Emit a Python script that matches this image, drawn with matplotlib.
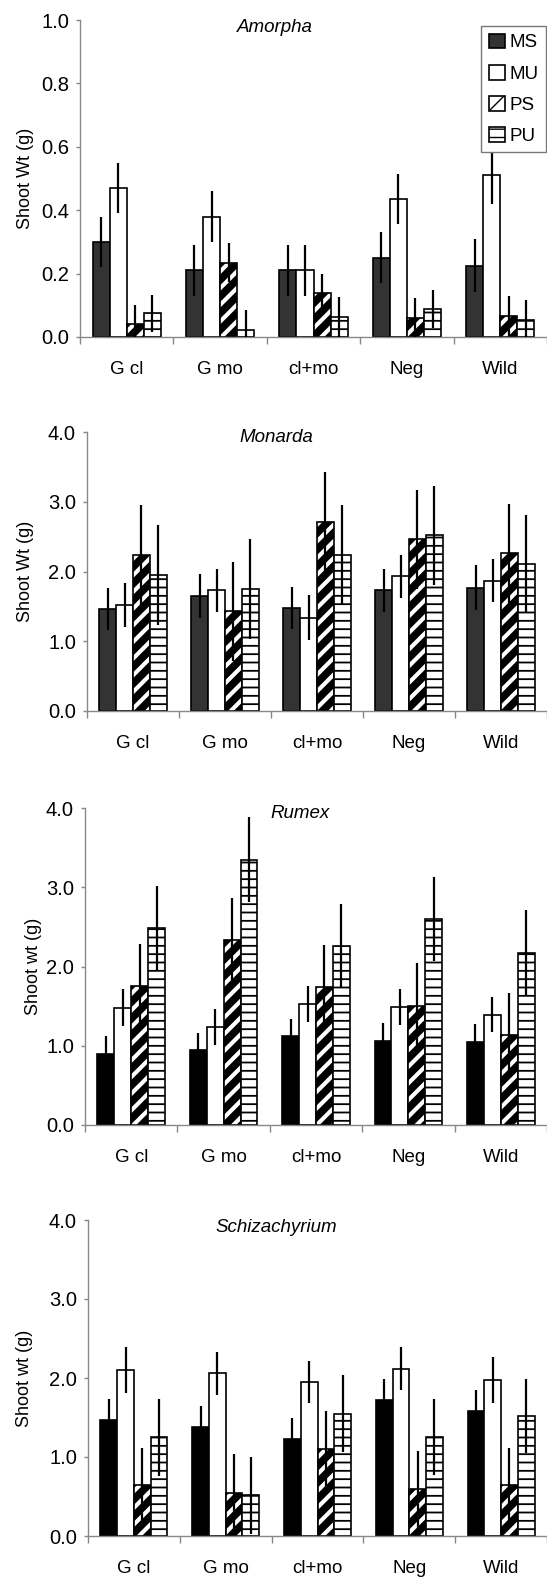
import matplotlib
matplotlib.use('Agg')
import matplotlib.pyplot as plt
import numpy as np

plt.rcParams['font.family'] = ['Liberation Sans', 'DejaVu Sans']

# categories and series
groups = ['G cl', 'G mo', 'cl+mo', 'Neg', 'Wild']
series = ['MS', 'MU', 'PS', 'PU']

# Amorpha
amorpha_mean = {'MS': [0.30, 0.21, 0.21, 0.25, 0.225],
                'MU': [0.47, 0.38, 0.21, 0.435, 0.51],
                'PS': [0.04, 0.235, 0.14, 0.06, 0.065],
                'PU': [0.075, 0.023, 0.062, 0.088, 0.055]}
amorpha_err = {'MS': [0.08, 0.08, 0.08, 0.08, 0.083],
               'MU': [0.08, 0.08, 0.08, 0.08, 0.09],
               'PS': [0.06, 0.06, 0.06, 0.063, 0.063],
               'PU': [0.058, 0.063, 0.063, 0.06, 0.063]}

# Monarda
monarda_mean = {'MS': [1.46, 1.65, 1.48, 1.73, 1.77],
                'MU': [1.52, 1.73, 1.34, 1.93, 1.87],
                'PS': [2.23, 1.43, 2.71, 2.46, 2.26],
                'PU': [1.95, 1.75, 2.24, 2.52, 2.11]}
monarda_err = {'MS': [0.30, 0.32, 0.30, 0.31, 0.32],
               'MU': [0.32, 0.31, 0.32, 0.31, 0.31],
               'PS': [0.72, 0.71, 0.71, 0.71, 0.71],
               'PU': [0.72, 0.72, 0.71, 0.71, 0.70]}

# Rumex
rumex_mean = {'MS': [0.90, 0.945, 1.12, 1.06, 1.05],
              'MU': [1.48, 1.24, 1.53, 1.49, 1.39],
              'PS': [1.75, 2.34, 1.74, 1.50, 1.13],
              'PU': [2.48, 3.35, 2.26, 2.60, 2.17]}
rumex_err = {'MS': [0.22, 0.22, 0.22, 0.23, 0.22],
             'MU': [0.23, 0.23, 0.23, 0.23, 0.22],
             'PS': [0.54, 0.53, 0.53, 0.54, 0.54],
             'PU': [0.53, 0.54, 0.53, 0.53, 0.54]}

# Schizachyrium
schiz_mean = {'MS': [1.47, 1.38, 1.23, 1.72, 1.58],
              'MU': [2.10, 2.06, 1.95, 2.12, 1.97],
              'PS': [0.64, 0.545, 1.10, 0.59, 0.64],
              'PU': [1.25, 0.515, 1.55, 1.25, 1.52]}
schiz_err = {'MS': [0.27, 0.27, 0.27, 0.27, 0.27],
             'MU': [0.29, 0.27, 0.27, 0.27, 0.29],
             'PS': [0.47, 0.49, 0.48, 0.49, 0.47],
             'PU': [0.49, 0.49, 0.49, 0.48, 0.47]}

W, H = 547, 1581
fig = plt.figure(figsize=(W / 100, H / 100), dpi=100)

# (title, ylabel, means, errs, ymax, MS colour, left, top, bottom, title x/y, ylabel right edge)
panels = [
    ('Amorpha', 'Shoot Wt (g)', amorpha_mean, amorpha_err, 1.0, '#333333', 80, 20, 337, 275, 28, 34),
    ('Monarda', 'Shoot Wt (g)', monarda_mean, monarda_err, 4.0, '#333333', 87, 432, 711, 276, 438, 34),
    ('Rumex', 'Shoot wt (g)', rumex_mean, rumex_err, 4.0, 'black', 85, 808, 1125, 300, 813, 42),
    ('Schizachyrium', 'Shoot wt (g)', schiz_mean, schiz_err, 4.0, 'black', 88, 1220, 1536, 276, 1227, 33),
]

spine_col = '#888888'
bw = 0.183
x = np.arange(len(groups))

for k, (title, ylab, means, errs, ymax, ms_col, left, top, bottom, tx, ty, ylx) in enumerate(panels):
    ax = fig.add_axes([left / W, 1 - bottom / H, (W - left) / W, (bottom - top) / H])
    styles = {'MS': dict(color=ms_col, hatch=None),
              'MU': dict(color='white', hatch=None),
              'PS': dict(color='white', hatch='//'),
              'PU': dict(color='white', hatch='--')}
    for i, s in enumerate(series):
        st = styles[s]
        bars = ax.bar(x + (i - 1.5) * bw, means[s], bw, color=st['color'],
                      edgecolor='black', linewidth=1.2, hatch=st['hatch'],
                      label=s, zorder=2)
        for p in bars:
            if hasattr(p, 'set_hatch_linewidth'):
                p.set_hatch_linewidth(5.5 if s == 'PS' else 1.3)
        ax.errorbar(x + (i - 1.5) * bw, means[s], yerr=errs[s], fmt='none',
                    ecolor='black', elinewidth=1.6, capsize=0, zorder=3)

    ax.set_xlim(-0.5, 4.5)
    ax.set_ylim(0, ymax)
    if ymax == 1.0:
        ax.set_yticks(np.arange(0, 1.01, 0.2))
    else:
        ax.set_yticks(np.arange(0, 4.01, 1.0))
    ax.yaxis.set_major_formatter(matplotlib.ticker.FormatStrFormatter('%.1f'))
    ax.set_xticks(np.arange(-0.5, 4.6, 1.0))
    ax.set_xticklabels([])
    ax.set_xticks(x, minor=True)
    ax.set_xticklabels(groups, minor=True)
    ax.tick_params(axis='x', which='major', length=5, width=1, color=spine_col, direction='out')
    ax.tick_params(axis='x', which='minor', length=0, pad=17, labelsize=13.5)
    ax.tick_params(axis='y', length=3, width=1, color=spine_col, direction='out',
                   pad=5, labelsize=14.5)

    for side in ['top', 'right']:
        ax.spines[side].set_visible(False)
    for side in ['left', 'bottom']:
        ax.spines[side].set_color(spine_col)
        ax.spines[side].set_linewidth(1)

    ax.set_ylabel(ylab, fontsize=13)
    ax.yaxis.set_label_coords((ylx - left) / (W - left), 0.5)

    fig.text(tx / W, 1 - ty / H, title, style='italic', fontsize=13.5,
             ha='center', va='center')

    if k == 0:
        leg = ax.legend(loc='upper right', bbox_to_anchor=(546 / W, 1 - 26 / H),
                        bbox_transform=fig.transFigure, borderaxespad=0,
                        fontsize=13.5, handlelength=0.85, handleheight=0.85,
                        handletextpad=0.25, labelspacing=0.7, borderpad=0.4,
                        fancybox=False, framealpha=1, edgecolor='#777777')
        leg.get_frame().set_linewidth(1)
        leg.set_zorder(5)

fig.savefig('out.png', dpi=100)
